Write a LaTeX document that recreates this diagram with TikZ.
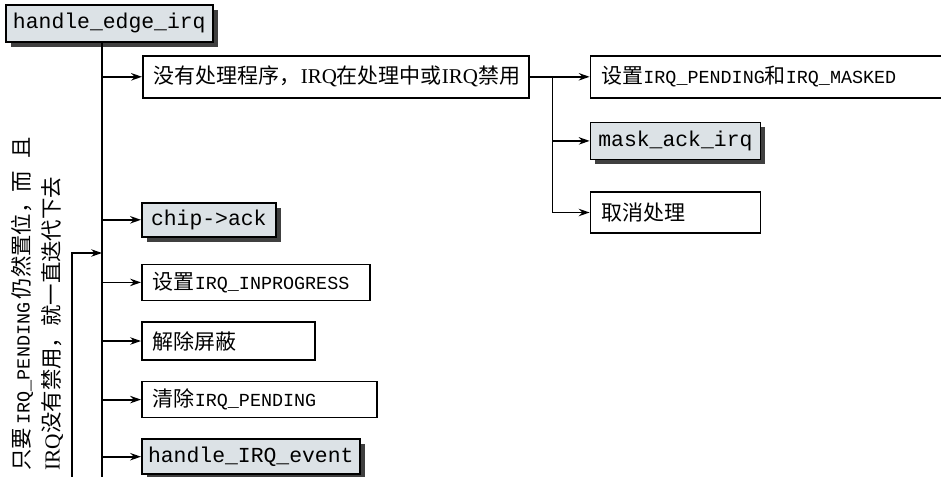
\documentclass[tikz,border=0pt]{standalone}
\usepackage{fontspec}
\setmainfont{Liberation Serif}
\setmonofont{Liberation Mono}
\newfontfamily\cjk{Noto Sans CJK SC}
\usetikzlibrary{positioning,arrows.meta,calc,shadows}
\definecolor{figfill}{HTML}{DCE2E6}
\definecolor{figshadow}{gray}{0.25}
\newcommand{\zh}[1]{{\cjk #1}}
\newcommand{\cd}[1]{{\fontsize{9.2}{11}\selectfont\ttfamily #1}}
\tikzset{
  tbox/.style={draw,thick,inner xsep=5.5pt,inner ysep=0pt,align=left,
               font=\fontsize{10.5}{12}\selectfont},
  fnbox/.style={draw,thick,fill=figfill,inner sep=0pt,
                font=\fontsize{10.7}{12}\selectfont\ttfamily,
                drop shadow={shadow xshift=2.5pt,shadow yshift=-2.5pt,fill=figshadow,opacity=1}},
  ln/.style={-{Stealth[length=1.9mm,width=1.3mm]},line width=0.9pt},
  note/.style={font=\fontsize{10.7}{15}\selectfont,align=left,inner sep=0pt},
}
\begin{document}
\begin{tikzpicture}[x=0.5pt,y=-0.5pt]
\useasboundingbox (0,0) rectangle (941,476);

\node[fnbox,anchor=north west,minimum width=103.5pt,minimum height=18.5pt] (head) at (5,4) {handle\_edge\_irq};

% first test
\node[tbox,anchor=north west,text width=182pt,minimum height=21pt] (cond) at (142,55)
  {\zh{没有处理程序，}IRQ\zh{在处理中或}IRQ\zh{禁用}};
\node[tbox,right=30pt of cond,text width=165pt,minimum height=21pt] (setpm)
  {\zh{设置}\cd{IRQ\_PENDING}\zh{和}\cd{IRQ\_MASKED}};
\node[fnbox,below right=11.5pt and 0pt of setpm.south west,minimum width=85pt,minimum height=18.5pt] (mask) {mask\_ack\_irq};
\node[tbox,below right=15.5pt and 0pt of mask.south west,text width=74pt,minimum height=20.5pt] (cancel) {\zh{取消处理}};

% normal path
\node[fnbox,anchor=north west,minimum width=67pt,minimum height=17pt] (chip) at (141,202) {chip->ack};
\node[tbox,below right=13pt and 0pt of chip.south west,text width=103pt,minimum height=18pt] (inprog)
  {\zh{设置}\cd{IRQ\_INPROGRESS}};
\node[tbox,below right=10pt and 0pt of inprog.south west,text width=75.5pt,minimum height=19pt] (unmask) {\zh{解除屏蔽}};
\node[tbox,below right=10pt and 0pt of unmask.south west,text width=106.5pt,minimum height=18pt] (clrpend)
  {\zh{清除}\cd{IRQ\_PENDING}};
\node[fnbox,below right=10pt and 0pt of clrpend.south west,minimum width=109pt,minimum height=17.5pt] (hie) {handle\_IRQ\_event};

\node[note,rotate=90,anchor=north west] (loopnote) at (11,471)
  {\zh{只要}\,\cd{IRQ\_PENDING}\,\zh{仍然置位，而}\hspace{6pt}\zh{且}\\IRQ\zh{没有禁用，就一直迭代下去}};

\coordinate (bot) at (102,484);
\coordinate (back) at (102,253);
\coordinate (loop) at (72,484);
\coordinate (br) at ($(cond.east)!0.38!(setpm.west)$);

\draw[line width=0.9pt] (head.south -| bot) -- (bot);
\draw[ln] (cond.west -| bot) -- (cond.west);
\draw[ln] (chip.west -| bot) -- (chip.west);
\draw[ln] (inprog.west -| bot) -- (inprog.west);
\draw[ln] (unmask.west -| bot) -- (unmask.west);
\draw[ln] (clrpend.west -| bot) -- (clrpend.west);
\draw[ln] (hie.west -| bot) -- (hie.west);
\draw[ln] (bot) -- (loop) |- (back);

\draw[ln] (cond) -- (setpm);
\draw[ln] (br) |- (mask.west);
\draw[ln] (br) |- (cancel.west);

\end{tikzpicture}
\end{document}
